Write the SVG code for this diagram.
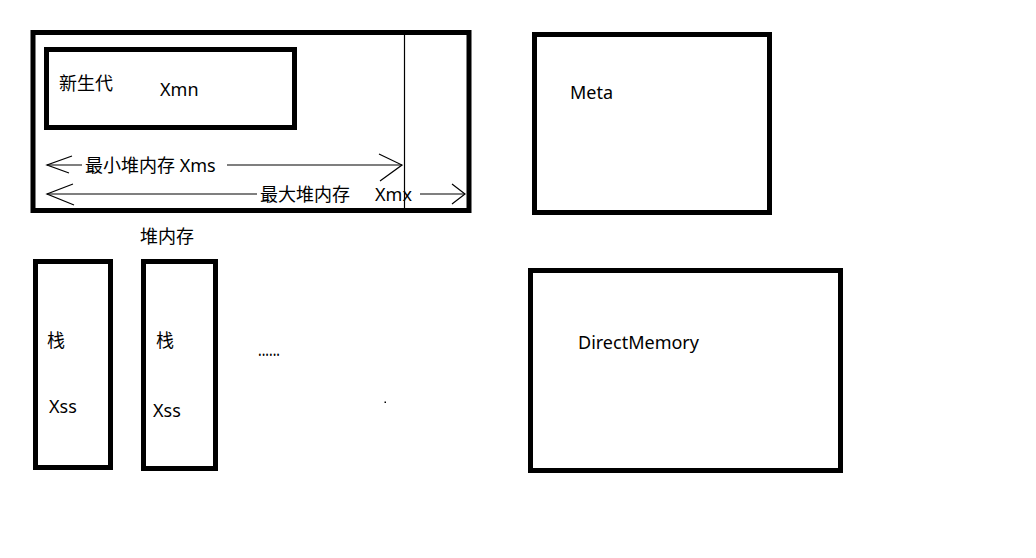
<svg xmlns="http://www.w3.org/2000/svg" width="1036" height="558" viewBox="0 0 1036 558">
<style>
.box{fill:none;stroke:#000;stroke-width:5}
.thin{fill:none;stroke:#000;stroke-width:1.2}
text{font-family:"Noto Sans","Noto Sans CJK SC",sans-serif;font-size:18px;fill:#000}
</style>
<rect width="1036" height="558" fill="#fff"/>
<g id="heap">
<rect class="box" x="33" y="32.5" width="436" height="178"/>
<line class="thin" x1="404.5" y1="35" x2="404.5" y2="208"/>
</g>
<g id="young">
<rect class="box" x="46.5" y="49.5" width="248" height="78"/>
<text x="59" y="90">新生代</text>
<text x="160" y="96">Xmn</text>
</g>
<g id="connectors">
<path class="thin" d="M47,165 L82,165 M227,165 L402,165"/>
<path class="thin" d="M72,156 L47,165 L69,173"/>
<path class="thin" d="M379,154 L402,165 L380,181"/>
<path class="thin" d="M47,194 L257,194 M420,194 L465,194"/>
<path class="thin" d="M73,184 L47,194 L74,205"/>
<path class="thin" d="M452,184 L465,194 L452,204"/>
</g>
<g id="labels">
<text x="85" y="172">最小堆内存 Xms</text>
<text x="260" y="201">最大堆内存</text>
<text x="375" y="201">Xmx</text>
<text x="140" y="243">堆内存</text>
</g>
<g id="stack1">
<rect class="box" x="35.5" y="261.5" width="75" height="206"/>
<text x="47" y="347">栈</text>
<text x="49" y="413">Xss</text>
</g>
<g id="stack2">
<rect class="box" x="143.5" y="261.5" width="72" height="207"/>
<text x="156" y="347">栈</text>
<text x="153" y="417">Xss</text>
</g>
<g id="dots">
<text x="258" y="356" textLength="22" lengthAdjust="spacingAndGlyphs">......</text>
<rect x="384.5" y="401.5" width="1.5" height="1.5" fill="#000"/>
</g>
<g id="meta">
<rect class="box" x="534.5" y="34.5" width="235" height="178"/>
<text x="570" y="99">Meta</text>
</g>
<g id="direct">
<rect class="box" x="530.5" y="270.5" width="310" height="200"/>
<text x="578" y="349">DirectMemory</text>
</g>
</svg>
